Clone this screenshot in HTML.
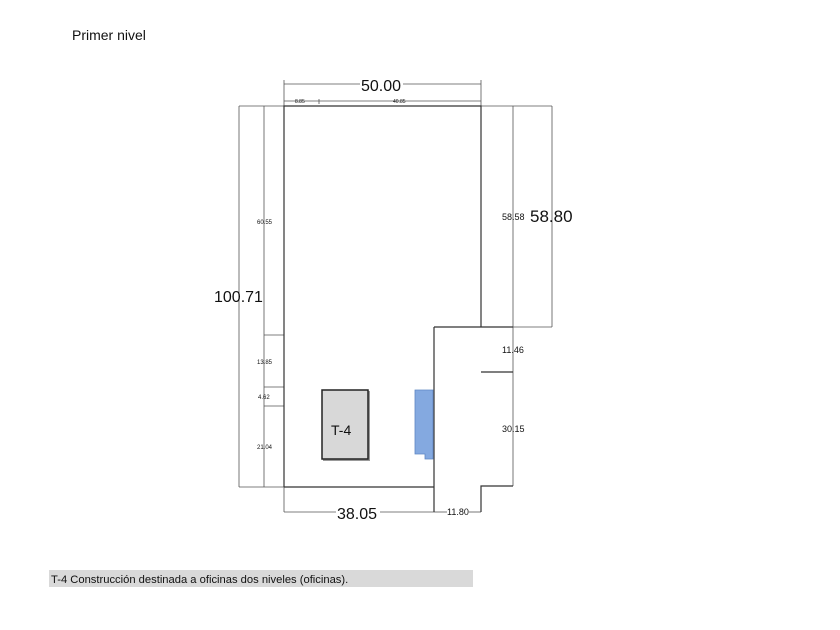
<!DOCTYPE html>
<html><head><meta charset="utf-8"><style>
body{margin:0;background:#fff;}
svg{display:block}
text{font-family:"Liberation Sans",Arial,sans-serif;fill:#111}
</style></head><body>
<svg width="840" height="630" viewBox="0 0 840 630">
<text x="72" y="40" font-size="14">Primer nivel</text>
<g stroke="#555" stroke-width="0.8" fill="none">
<line x1="284" y1="84" x2="360" y2="84"/><line x1="403" y1="84" x2="481" y2="84"/>
<line x1="284" y1="80" x2="284" y2="106"/><line x1="481" y1="80" x2="481" y2="106"/>
<line x1="284" y1="101" x2="481" y2="101"/>
<line x1="319" y1="99" x2="319" y2="104"/>
<line x1="239" y1="106" x2="284" y2="106"/>
<line x1="239" y1="106" x2="239" y2="487"/>
<line x1="264" y1="106" x2="264" y2="487"/>
<line x1="264" y1="335" x2="284" y2="335"/>
<line x1="264" y1="387" x2="284" y2="387"/>
<line x1="264" y1="406" x2="284" y2="406"/>
<line x1="239" y1="487" x2="284" y2="487"/>
<line x1="481" y1="106" x2="552" y2="106"/>
<line x1="513" y1="106" x2="513" y2="486"/>
<line x1="552" y1="106" x2="552" y2="327"/>
<line x1="513" y1="327" x2="552" y2="327"/>
<line x1="284" y1="487" x2="284" y2="512"/>
<line x1="284" y1="512" x2="336" y2="512"/><line x1="380" y1="512" x2="434" y2="512"/>
<line x1="434" y1="512" x2="447" y2="512"/><line x1="469" y1="512" x2="481" y2="512"/>
</g>
<g stroke="#333" stroke-width="1.2" fill="none">
<polyline points="284,487 284,106 481,106 481,327"/>
<line x1="434" y1="327" x2="513" y2="327"/>
<line x1="434" y1="327" x2="434" y2="512"/>
<line x1="284" y1="487" x2="434" y2="487"/>
<line x1="481" y1="372" x2="513" y2="372"/>
<polyline points="513,486 481,486 481,512"/>
</g>
<rect x="323" y="391" width="47" height="70" fill="#999"/>
<rect x="322" y="390" width="46" height="69" fill="#d8d8d8" stroke="#222" stroke-width="1.5"/>
<text x="331" y="435" font-size="14">T-4</text>
<polygon points="415,390 433,390 433,459 425,459 425,454 415,454" fill="#84a9e0" stroke="#5f86c4" stroke-width="0.8"/>
<text x="361" y="91" font-size="16">50.00</text>
<text x="295" y="103" font-size="5">8.85</text>
<text x="393" y="103" font-size="5">40.85</text>
<text x="257" y="224" font-size="6">60.55</text>
<text x="257" y="364" font-size="6">13.85</text>
<text x="258" y="399" font-size="6">4.62</text>
<text x="257" y="449" font-size="6">21.04</text>
<text x="214" y="302" font-size="16">100.71</text>
<text x="502" y="220" font-size="9">58.58</text>
<text x="530" y="222" font-size="17">58.80</text>
<text x="502" y="353" font-size="9">11.46</text>
<text x="502" y="432" font-size="9">30.15</text>
<text x="337" y="519" font-size="16">38.05</text>
<text x="447" y="515" font-size="9">11.80</text>
<rect x="49" y="570" width="424" height="17" fill="#d9d9d9"/>
<text x="51" y="583" font-size="11.2">T-4 Construcción destinada a oficinas dos niveles (oficinas).</text>
</svg>
</body></html>
